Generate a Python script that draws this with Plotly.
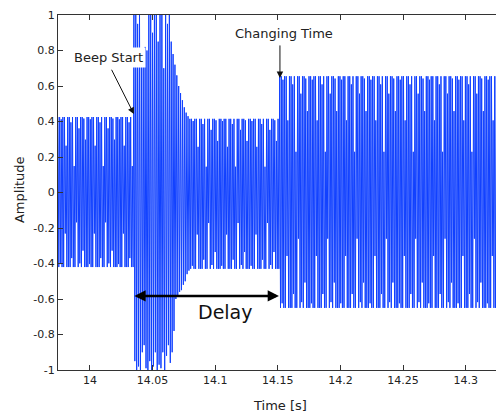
import numpy as np
import plotly.graph_objects as go

# ---------------- data ----------------
x_tick_vals = [14, 14.05, 14.1, 14.15, 14.2, 14.25, 14.3]
x_tick_text = ["14", "14.05", "14.1", "14.15", "14.2", "14.25", "14.3"]
y_tick_vals = [-1, -0.8, -0.6, -0.4, -0.2, 0, 0.2, 0.4, 0.6, 0.8, 1]
y_tick_text = ["-1", "-0.8", "-0.6", "-0.4", "-0.2", "0", "0.2", "0.4", "0.6", "0.8", "1"]

# signal segments: steady tone, beep burst, steady tone, louder tone
segment_start = [13.9745, 14.0351, 14.0798, 14.1515]
segment_end = [14.0351, 14.0798, 14.1515, 14.3310]
segment_top = [0.425, None, 0.415, 0.655]
segment_bottom = [-0.42, None, -0.43, -0.65]
stroke_dt = 0.0013  # spacing of the visible oscillation strokes [s]

# relative stroke heights seen in the steady parts (lighter/shorter strokes)
stroke_texture_top = [1, 1, 0.97, 1, 1, 0.62, 1, 1, 0.93, 1, 0.35, 1, 1, 0.85, 1, 1, 0.98, 0.7]
stroke_texture_bottom = [1, 0.96, 1, 1, 0.55, 1, 1, 1, 0.88, 1, 1, 0.4, 1, 0.95, 1, 0.78, 1, 1]

# beep burst peaks, stroke by stroke
beep_top = [1.0, 1.0, 0.95, 1.0, 0.8, 0.78, 0.82, 0.8, 1.0, 1.0, 0.9, 1.0, 1.0, 0.85, 1.0,
            1.0, 0.7, 1.0, 0.95, 1.0, 0.85, 0.78, 0.72, 0.66, 0.6, 0.56, 0.52, 0.48, 0.45, 0.43]
beep_bottom = [-0.95, -1.0, -0.98, -1.0, -0.9, -0.86, -0.99, -1.0, -0.95, -1.0, -0.98, -0.9,
               -1.0, -0.97, -0.99, -0.9, -1.0, -0.92, -0.86, -0.96, -0.9, -0.78, -0.6, -0.58,
               -0.56, -0.55, -0.52, -0.5, -0.46, -0.44]

# ---------------- build the zig-zag waveform ----------------
xs, ys = [], []
for i in range(len(segment_start)):
    s, e = segment_start[i], segment_end[i]
    if segment_top[i] is None:
        tops = np.array(beep_top)
        bots = np.array(beep_bottom)
        n = len(tops)
    else:
        n = int(round((e - s) / stroke_dt))
        tt = np.resize(stroke_texture_top, n)
        tb = np.resize(stroke_texture_bottom, n)
        tops = segment_top[i] * tt
        bots = segment_bottom[i] * tb
    times = np.linspace(s, e, n, endpoint=False)
    dt = (e - s) / n
    for k in range(n):
        xs += [times[k], times[k] + dt / 2]
        ys += [tops[k], bots[k]]

fig = go.Figure()
fig.add_trace(go.Scatter(x=xs, y=ys, mode="lines",
                         line=dict(color="#1040ff", width=1), hoverinfo="skip",
                         showlegend=False))

FONT = "DejaVu Sans"
axis_common = dict(showline=True, linecolor="#333333", linewidth=1, mirror="ticks",
                   ticks="inside", ticklen=5, tickcolor="#333333", showgrid=False,
                   zeroline=False, automargin=False,
                   tickfont=dict(family=FONT, size=11, color="#222222"))

fig.update_xaxes(range=[13.9745, 14.3306], tickvals=x_tick_vals, ticktext=x_tick_text,
                 **axis_common)
fig.update_yaxes(range=[-1, 1], tickvals=y_tick_vals, ticktext=y_tick_text,
                 **axis_common)

ann_font = dict(family=FONT, size=13, color="#222222")
annotations = [
    # axis titles
    dict(x=0.498, y=-0.101, xref="paper", yref="paper", text="Time [s]", showarrow=False,
         font=dict(family=FONT, size=13, color="#222222"), xanchor="center", yanchor="middle"),
    dict(x=-0.0874, y=0.507, xref="paper", yref="paper", text="Amplitude", showarrow=False,
         textangle=-90, font=dict(family=FONT, size=13, color="#222222"),
         xanchor="center", yanchor="middle"),
    # Beep Start label + arrow
    dict(x=14.0147, y=0.758, xref="x", yref="y", text="Beep Start", showarrow=False,
         font=ann_font, bgcolor="white", borderpad=2),
    dict(x=14.0351, y=0.442, ax=14.0167, ay=0.70, xref="x", yref="y", axref="x", ayref="y",
         text="", showarrow=True, arrowhead=2, arrowsize=1.3, arrowwidth=1, arrowcolor="#111111"),
    # Changing Time label + arrow
    dict(x=14.1549, y=0.893, xref="x", yref="y", text="Changing Time", showarrow=False,
         font=ann_font),
    dict(x=14.1517, y=0.645, ax=14.1517, ay=0.837, xref="x", yref="y", axref="x", ayref="y",
         text="", showarrow=True, arrowhead=2, arrowsize=1.3, arrowwidth=1, arrowcolor="#111111"),
    # Delay double arrow + label
    dict(x=14.1509, y=-0.583, ax=14.0343, ay=-0.583, xref="x", yref="y", axref="x", ayref="y",
         text="", showarrow=True, arrowhead=2, startarrowhead=2, arrowside="end+start",
         arrowsize=0.9, startarrowsize=0.9, arrowwidth=2.5, arrowcolor="#000000"),
    dict(x=14.1086, y=-0.673, xref="x", yref="y", text="Delay", showarrow=False,
         font=dict(family=FONT, size=19, color="#111111")),
]

# the page body has an 8px default margin, so the figure is sized to fill the window exactly
fig.update_layout(width=496, height=408, margin=dict(l=50, r=0, t=7, b=46),
                  paper_bgcolor="white", plot_bgcolor="white",
                  annotations=annotations, showlegend=False)

fig.write_html("out.html")
